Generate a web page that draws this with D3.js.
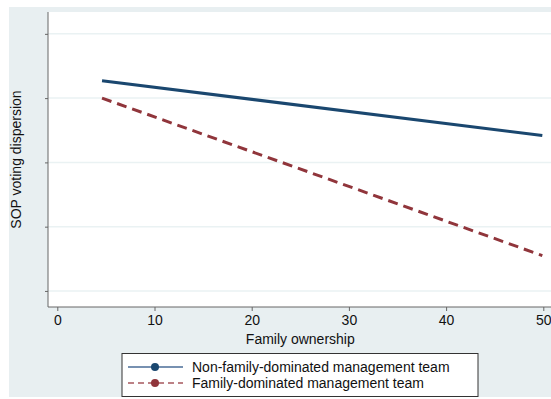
<!DOCTYPE html>
<html><head><meta charset="utf-8">
<script src="https://cdn.jsdelivr.net/npm/d3@7"></script>
<style>html,body{margin:0;padding:0;background:#fff;}svg{display:block;}</style>
</head><body>
<script>
const xTicks = [0, 10, 20, 30, 40, 50];
const yTicks = [1, 2, 3, 4, 5];
const seriesNames = ["Non-family-dominated management team", "Family-dominated management team"];
const familyOwnership = [4.6, 49.9];
const nonFamilyValues = [4.27, 3.42];
const familyValues = [4.0, 1.55];
const xLabel = "Family ownership";
const yLabel = "SOP voting dispersion";

const W = 551, H = 399;
const svg = d3.select("body").append("svg").attr("width", W).attr("height", H);
const font = "Liberation Sans, Arial, Helvetica, sans-serif";
const bg = "#e8eff1";

svg.append("rect").attr("x", 9).attr("y", 7).attr("width", W - 9).attr("height", 390).attr("fill", bg);

const plotL = 48, plotT = 12, plotR = 551, plotB = 307;
svg.append("rect").attr("x", plotL).attr("y", plotT).attr("width", plotR - plotL).attr("height", plotB - plotT).attr("fill", "#fff");

const x = d3.scaleLinear().domain([0, 50]).range([57.3, 543.3]);
const y = d3.scaleLinear().domain([0.75, 5.34]).range([plotB, plotT]);

// gridlines
svg.append("g").selectAll("line").data(yTicks).join("line")
  .attr("x1", plotL).attr("x2", plotR)
  .attr("y1", d => y(d)).attr("y2", d => y(d))
  .attr("stroke", "#eaf2f3").attr("stroke-width", 1.5);

// y axis
const yAxis = svg.append("g").attr("transform", `translate(${plotL},0)`)
  .call(d3.axisLeft(y).tickValues(yTicks).tickFormat("").tickSize(3).tickSizeOuter(0));
yAxis.select(".domain").attr("stroke", "#666").attr("d", `M0,${plotT}V${plotB}`);
yAxis.selectAll(".tick line").attr("stroke", "#666");

// x axis
const xAxis = svg.append("g").attr("transform", `translate(0,${plotB})`)
  .call(d3.axisBottom(x).tickValues(xTicks).tickSize(4).tickSizeOuter(0).tickPadding(4));
xAxis.select(".domain").attr("stroke", "#666").attr("d", `M${plotL},0H${plotR}`);
xAxis.selectAll(".tick line").attr("stroke", "#666");
xAxis.selectAll(".tick text").attr("font-family", font).attr("font-size", 14).attr("fill", "#111");

svg.append("text").attr("x", x(25)).attr("y", 344).attr("text-anchor", "middle")
  .attr("font-family", font).attr("font-size", 14).attr("fill", "#111").text(xLabel);
svg.append("text").attr("transform", `translate(21,${(plotT + plotB) / 2}) rotate(-90)`)
  .attr("text-anchor", "middle").attr("font-family", font).attr("font-size", 14).attr("fill", "#111").text(yLabel);

const line = d3.line().x(d => x(d[0])).y(d => y(d[1]));
const navy = "#1a476f", red = "#90353b";
svg.append("path").datum(familyOwnership.map((v, i) => [v, nonFamilyValues[i]]))
  .attr("d", line).attr("fill", "none").attr("stroke", navy).attr("stroke-width", 3);
svg.append("path").datum(familyOwnership.map((v, i) => [v, familyValues[i]]))
  .attr("d", line).attr("fill", "none").attr("stroke", red).attr("stroke-width", 3)
  .attr("stroke-dasharray", "10,6");

// legend
const lg = svg.append("g");
lg.append("rect").attr("x", 122).attr("y", 353.5).attr("width", 356).attr("height", 43)
  .attr("fill", "#fff").attr("stroke", "#333").attr("stroke-width", 1);
const cols = [navy, red];
seriesNames.forEach((n, i) => {
  const yy = 367 + i * 16;
  lg.append("line").attr("x1", 128).attr("x2", 183).attr("y1", yy).attr("y2", yy)
    .attr("stroke", i === 0 ? "#4a6d97" : "#a7585d").attr("stroke-width", 1.3)
    .attr("stroke-dasharray", i === 0 ? null : "6,4");
  lg.append("circle").attr("cx", 155).attr("cy", yy).attr("r", 4).attr("fill", cols[i]);
  lg.append("text").attr("x", 192).attr("y", yy + 5).attr("font-family", font).attr("font-size", 14)
    .attr("fill", "#111").text(n);
});
</script>
</body></html>
